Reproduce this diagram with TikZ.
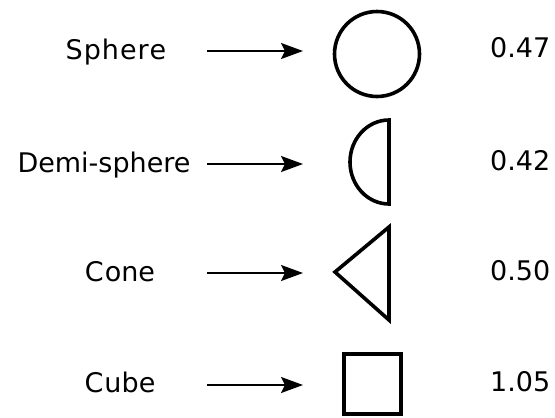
\documentclass[tikz,border=0pt]{standalone}
\usepackage{fontspec}
\setmainfont{DejaVu Sans}
\usetikzlibrary{arrows.meta}
\begin{document}
\begin{tikzpicture}[x=1pt,y=-1pt,
  lbl/.style={font=\fontsize{27}{31}\selectfont, inner sep=0pt, anchor=base},
  num/.style={font=\fontsize{27}{31}\selectfont, inner sep=0pt, anchor=base west},
  conn/.style={line width=2.2pt, -{Stealth[length=22pt,width=16pt,inset=4pt]}},
  shapeline/.style={line width=3.6pt, line join=miter}]
\useasboundingbox (0,0) rectangle (555,418);
% labels
\node[lbl] (sphere) at (116,59) {S\kern1pt p\kern1pt h\kern1pt e\kern1pt r\kern1pt e};
\node[lbl] (demi) at (104,172) {Demi-sphere};
\node[lbl] (cone) at (120,281) {C\kern1pt one};
\node[lbl] (cube) at (120,392) {C\kern1pt ube};
% values
\node[num] (v1) at (490,57) {0.47};
\node[num] (v2) at (490,170) {0.42};
\node[num] (v3) at (490,280) {0.50};
\node[num] (v4) at (490,391) {1.05};
% arrow ends
\coordinate (a1s) at (207,51); \coordinate (a1e) at (303,51);
\coordinate (a2s) at (207,164); \coordinate (a2e) at (303,164);
\coordinate (a3s) at (207,273); \coordinate (a3e) at (303,273);
\coordinate (a4s) at (207,385); \coordinate (a4e) at (303,385);
\draw[conn] (a1s) -- (a1e);
\draw[conn] (a2s) -- (a2e);
\draw[conn] (a3s) -- (a3e);
\draw[conn] (a4s) -- (a4e);
% shapes
\draw[shapeline] (377,54) circle [radius=42.5];
\draw[shapeline] (389,120) -- (389,204) arc[start angle=90, end angle=270, x radius=39, y radius=42] -- cycle;
\draw[shapeline] (335,272) -- (389,227) -- (389,320) -- cycle;
\draw[shapeline] (344,354) rectangle (401,414);
\end{tikzpicture}
\end{document}
